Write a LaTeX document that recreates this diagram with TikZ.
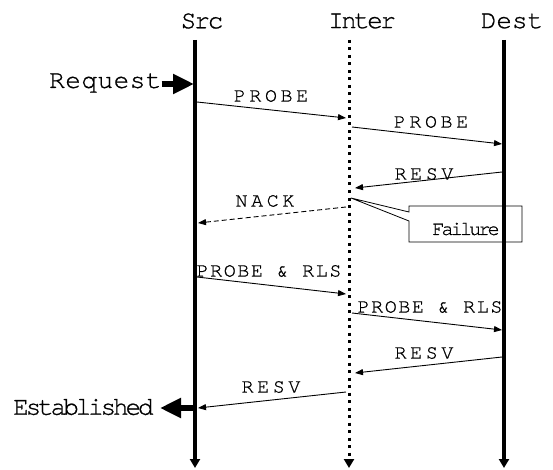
\documentclass[tikz,border=0pt]{standalone}
\usepackage{fontspec}
\newfontfamily\bigf{texgyrecursor-regular.otf}[FakeBold=0.8]
\newfontfamily\labf{texgyrecursor-regular.otf}[LetterSpace=18,FakeBold=0.8]
\usetikzlibrary{arrows.meta}
\begin{document}
\begin{tikzpicture}[x=1pt,y=-1pt,
  lbl/.style={font=\labf\fontsize{20}{22}\selectfont, inner sep=0pt},
  lblnarrow/.style={font=\labf\fontsize{20}{22}\selectfont\addfontfeature{LetterSpace=8}, inner sep=0pt},
  big/.style={font=\bigf\fontsize{26}{28}\selectfont, inner sep=0pt},
  msg/.style={line width=0.9pt, -{Triangle[length=8pt,width=6pt]}},
  nack/.style={msg, dash pattern=on 5pt off 3pt},
  life/.style={line width=3.5pt, -{Triangle[length=9pt,width=10pt]}},
  dotlife/.style={line width=3pt, dash pattern=on 3pt off 4.5pt, -{Triangle[length=9pt,width=10pt]}},
  fat/.style={line width=6.5pt, -{Triangle[length=21pt,width=19pt]}},
  callout/.style={line width=0.8pt}]
\useasboundingbox (0,0) rectangle (553,470);
% headers
\node[big, font=\bigf\fontsize{26}{28}\selectfont\addfontfeature{LetterSpace=-8}] (src) at (202,21) {Src};
\node[big, font=\bigf\fontsize{26}{28}\selectfont\addfontfeature{LetterSpace=-10}] (inter) at (362,21) {Inter};
\node[big] (dest) at (512,21) {Dest};
% lifelines
\coordinate (srcT) at (195,40);  \coordinate (srcB) at (195,468);
\coordinate (intT) at (349,40);  \coordinate (intB) at (349,468);
\coordinate (dstT) at (504,40);  \coordinate (dstB) at (504,468);
\draw[life] (srcT) -- (srcB);
\draw[dotlife] (intT) -- (intB);
\draw[life] (dstT) -- (dstB);
% request / established
\node[big, anchor=west, font=\bigf\fontsize{26}{28}\selectfont\addfontfeature{LetterSpace=2}] (req) at (49,83) {Request};
\coordinate (reqT) at (194,84);
\draw[fat] (req.east |- reqT) -- (reqT);
\node[big, anchor=west, font=\bigf\fontsize{26}{28}\selectfont\addfontfeature{LetterSpace=-12}] (est) at (13,407) {Established};
\coordinate (estS) at (195,408);
\coordinate (estT) at (160,408);
\draw[fat] (estS) -- (estT);
% messages
\coordinate (m1a) at (197,102); \coordinate (m1b) at (346,118);
\draw[msg] (m1a) -- (m1b);
\node[lbl] (l1) at (271,96) {PROBE};
\coordinate (m2a) at (352,127); \coordinate (m2b) at (502,144);
\draw[msg] (m2a) -- (m2b);
\node[lbl] (l2) at (431,122) {PROBE};
\coordinate (m3a) at (502,172); \coordinate (m3b) at (355,188);
\draw[msg] (m3a) -- (m3b);
\node[lbl] (l3) at (424,174) {RESV};
\coordinate (m4a) at (346,207); \coordinate (m4b) at (198,223);
\draw[nack] (m4a) -- (m4b);
\node[lbl] (l4) at (265,201) {NACK};
\coordinate (m5a) at (197,277); \coordinate (m5b) at (346,294);
\draw[msg] (m5a) -- (m5b);
\node[lblnarrow] (l5) at (269,271) {PROBE \& RLS};
\coordinate (m6a) at (352,313); \coordinate (m6b) at (502,330);
\draw[msg] (m6a) -- (m6b);
\node[lblnarrow] (l6) at (430,307) {PROBE \& RLS};
\coordinate (m7a) at (502,357); \coordinate (m7b) at (355,373);
\draw[msg] (m7a) -- (m7b);
\node[lbl] (l7) at (424,353) {RESV};
\coordinate (m8a) at (346,392); \coordinate (m8b) at (198,408);
\draw[msg] (m8a) -- (m8b);
\node[lbl] (l8) at (271,387) {RESV};
% failure callout
\coordinate (tip) at (351,198);
\draw[callout] (tip) -- (409,212) -- (409,206) -- (522,206) -- (522,242) -- (409,242) -- (409,221) -- cycle;
\node[inner sep=0pt, font=\bigf\fontsize{20}{22}\selectfont\addfontfeature{LetterSpace=-14}] (fail) at (466,229) {Failure};
\end{tikzpicture}
\end{document}
